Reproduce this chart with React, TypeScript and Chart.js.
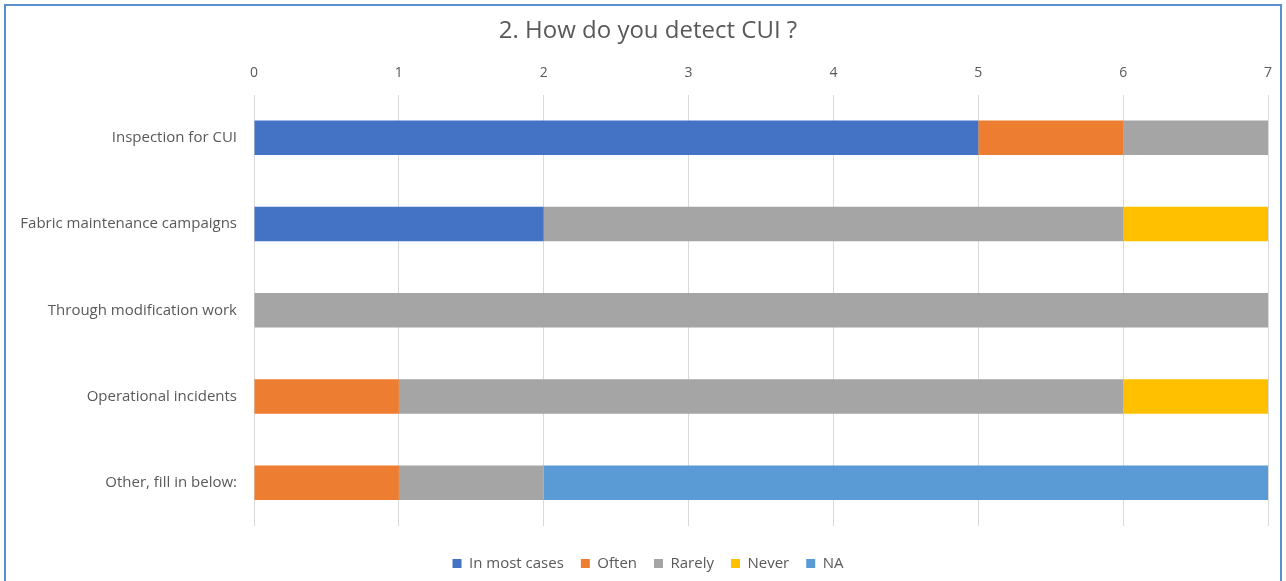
import React, { useEffect, useRef } from "react";
import { Chart, registerables } from "chart.js";

Chart.register(...registerables);

const chartTitle = "2. How do you detect CUI ?";
const categories = [
  "Inspection for CUI",
  "Fabric maintenance campaigns",
  "Through modification work",
  "Operational incidents",
  "Other, fill in below:",
];
const seriesNames = ["In most cases", "Often", "Rarely", "Never", "NA"];
const inMostCases = [5, 2, 0, 0, 0];
const often = [1, 0, 0, 1, 1];
const rarely = [1, 4, 7, 5, 1];
const never = [0, 1, 0, 1, 0];
const na = [0, 0, 0, 0, 5];
const seriesColors = ["#4472C4", "#ED7D31", "#A5A5A5", "#FFC000", "#5B9BD5"];
const xMin = 0;
const xMax = 7;
const xStep = 1;

const FONT = "'Open Sans', 'Noto Sans', sans-serif";
const TEXT = "#595959";
const CANVAS_W = 1296;
const CANVAS_H = 581;

export default function App() {
  const ref = useRef<HTMLCanvasElement | null>(null);

  useEffect(() => {
    document.body.style.margin = "0";
    const values = [inMostCases, often, rarely, never, na];
    const chart = new Chart(ref.current as HTMLCanvasElement, {
      type: "bar",
      data: {
        labels: categories,
        datasets: seriesNames.map((name, i) => ({
          label: name,
          data: values[i],
          backgroundColor: seriesColors[i],
          borderWidth: 0,
          barPercentage: 0.4,
          categoryPercentage: 1,
        })),
      },
      options: {
        indexAxis: "y",
        animation: false,
        responsive: false,
        layout: { padding: { left: 0, right: 0, top: 0, bottom: 0 } },
        scales: {
          x: {
            position: "top",
            stacked: true,
            min: xMin,
            max: xMax,
            ticks: { stepSize: xStep, color: TEXT, font: { family: FONT, size: 14 }, padding: 13 },
            grid: { color: "#D9D9D9", drawTicks: false },
            border: { display: false },
          },
          y: {
            stacked: true,
            ticks: { color: TEXT, font: { family: FONT, size: 15 }, padding: 9 },
            grid: { display: false },
            border: { display: false },
            afterFit: (scale: any) => {
              scale.width = 254;
            },
          },
          yRight: {
            type: "category",
            position: "right",
            display: true,
            ticks: { display: false },
            grid: { display: false },
            border: { display: false },
            afterFit: (scale: any) => {
              scale.width = CANVAS_W - 1268;
            },
          },
        },
        plugins: {
          title: {
            display: true,
            text: chartTitle,
            color: TEXT,
            font: { family: FONT, size: 24, weight: "normal" },
            padding: { top: 17, bottom: 6 },
          },
          legend: {
            position: "bottom",
            title: { display: true, text: "", padding: 0.5, font: { size: 10 } },
            labels: {
              color: TEXT,
              font: { family: FONT, size: 15 },
              boxWidth: 9,
              boxHeight: 9,
              padding: 17,
            },
          },
          tooltip: { enabled: false },
        },
      },
    });
    return () => chart.destroy();
  }, []);

  return (
    <div style={{ position: "relative", width: 1286, height: 581, overflow: "hidden", background: "#fff" }}>
      <canvas ref={ref} width={CANVAS_W} height={CANVAS_H} style={{ position: "absolute", left: 0, top: 0 }} />
      <div
        style={{
          position: "absolute",
          left: 4,
          top: 4,
          width: 1274,
          height: 600,
          border: "2px solid #5B8FD0",
          pointerEvents: "none",
        }}
      />
    </div>
  );
}
